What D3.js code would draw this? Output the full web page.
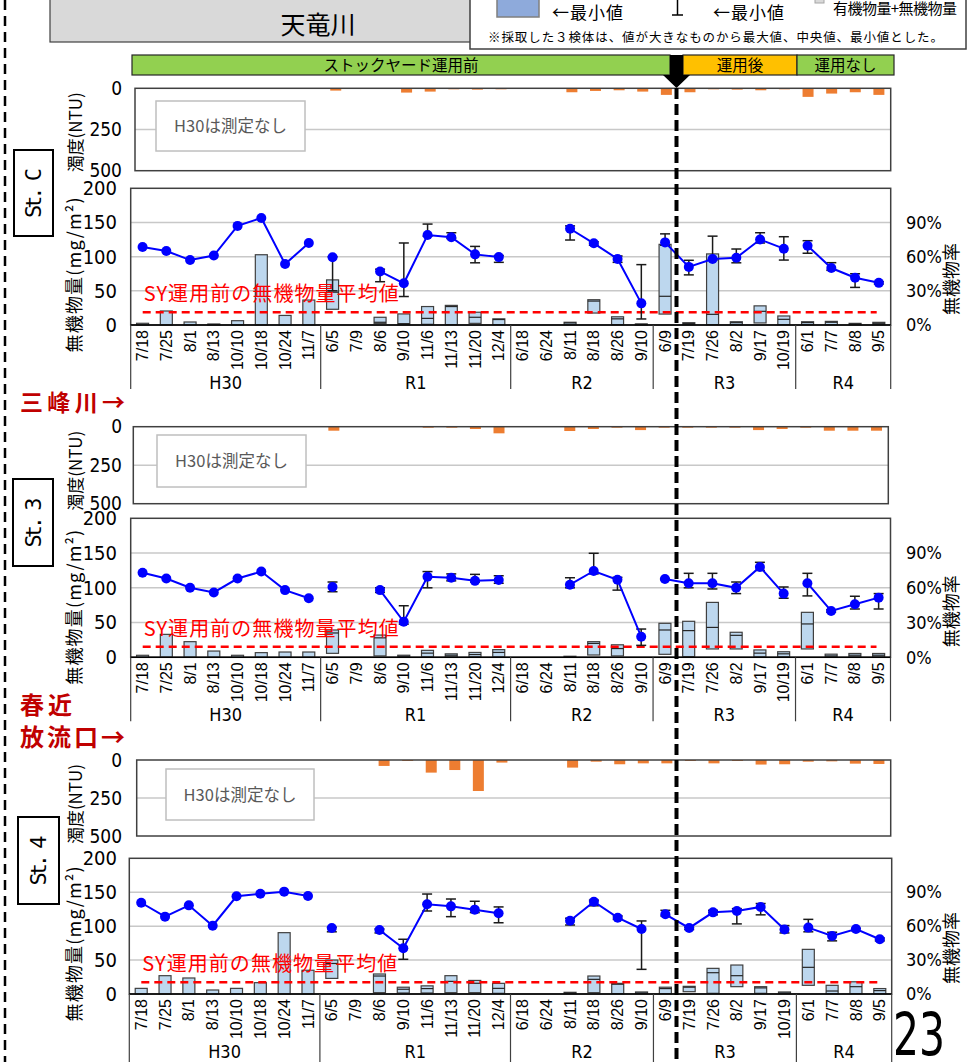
<!DOCTYPE html>
<html>
<head>
<meta charset="utf-8">
<script src="https://cdn.jsdelivr.net/npm/d3@7"></script>
<style>
body{margin:0;background:#fff;}
svg{display:block;}
</style>
</head>
<body>
<svg id="chart" width="968" height="1062"></svg>
<script>
// sampling dates, grouped by fiscal year
var dates=['7/18','7/25','8/1','8/13','10/10','10/18','10/24','11/7',
  '6/5','7/9','8/6','9/10','11/6','11/13','11/20','12/4',
  '6/18','6/24','8/11','8/18','8/26','9/10',
  '6/9','7/19','7/26','8/2','9/17','10/19',
  '6/1','7/7','8/8','9/5'];
var yearLabels=['H30','R1','R2','R3','R4'];
var yearCounts=[8,8,6,6,4];

// St.C
var turbC=[null,null,null,null,null,null,null,null, 14,null,null,26,20,6,8,4, null,null,24,16,12,20, 40,24,4,8,12,6, 52,32,24,40];
var boxMaxC=[2.5,20.5,4.4,1.5,6.3,102.8,14,36.5, 66,null,11.3,16.2,27,28.7,18.7,9, null,null,4,37,12,1.5, 118,3.4,104,4.8,28,13.2, 4.8,5.3,2.4,3.9];
var boxMedC=[null,null,null,null,null,null,null,null, 48,null,4,2,9.7,27,11.3,8, null,null,3,35,9,1, 42,2,15.6,3.4,20,8.3, 3.5,4,1.5,2.5];
var boxMinC=[0,0,0,0,0,0,0,0, 23,null,2.4,0.5,1,0.5,2.4,0.5, null,null,0.5,17.5,0.5,0.5, 16,0.5,0.5,0.5,3,0.5, 0.5,0.5,0.5,0.5];
var rateC=[68.4,65,57,61,87,94,53.5,72, 59.4,null,47,36.6,79,77,62,59.6, null,null,84.5,71.7,58,19, 72.5,51,58,59,75,67, 69.6,50,41.5,37];
var rateMinC=[null,null,null,null,null,null,null,null, 30,null,38,25,78,76,54.6,55, null,null,74.6,70,55,5.3, 70,44,57,54.6,72,57, 63,48,33,36];
var rateMaxC=[null,null,null,null,null,null,null,null, 60,null,49,72,88.6,81,69,61, null,null,87,73,60.6,53, 80,56.8,78,66.7,81,77.5, 74,54.7,45,38];
var avgC=18.5;

// St.3
var turb3=[null,null,null,null,null,null,null,null, 26,null,null,null,2,2,15,43, null,null,28,15,6,22, 3,3,3,3,22,15, 5,26,26,26];
var boxMax3=[2.9,33,22.5,9,2.9,6.7,7.6,7.6, 39.3,null,32,3,10,5,7,11, null,null,1.5,22.5,18,null, 48.9,51.8,79,36,10.6,8, 64.7,4.5,5.5,5.5];
var boxMed3=[null,null,null,null,null,null,null,null, 35,null,28,1.5,6,3,4,7, null,null,1,20,12.6,null, 39.3,38.4,43,31.6,6,5, 48,2,3,3];
var boxMin3=[0,0,0,0,0,0,0,0, 5.7,null,2,0.5,0.5,0.5,0.5,0.5, null,null,0.5,3.3,2,null, 4.3,1,12,12,0.5,0.5, 12,0.5,0.5,0.5];
var rate3=[73,68,60,56,68,74,58,51, 60.7,null,58,30.7,69.6,68.7,66,66.7, null,null,62.7,74.5,67,17.8, 67.6,64,64,60,78,55, 64,40,45.8,51.5];
var rateMin3=[null,null,null,null,null,null,null,null, 56.6,null,56,28.6,60,66,65,63.9, null,null,60,72,58,10.3, 67,60,59,55,75,51, 53,39,41.7,41.7];
var rateMax3=[null,null,null,null,null,null,null,null, 65,null,60,44.5,74,72,71.6,70.4, null,null,68.7,89.8,69,24.4, 68,72.5,72.5,65,82,60.7, 72.5,41,52.7,55];
var avg3=15.3;

// St.4
var turb4=[null,null,null,null,null,null,null,null, null,null,39,3,83,66,204,17, null,null,50,11,28,22, 22,2,22,2,30,28, 11,9,24,26];
var boxMax4=[8.3,27,23.6,5.9,8.3,16.7,90.4,35, 50,null,29.5,10,12,27,20,15.7, null,null,2.5,26.5,15.7,3, 10,11.3,37.8,42.7,10.8,3, 65.8,12.8,18,8];
var boxMed4=[null,null,null,null,null,null,null,null, 45,null,26.5,7,8,18.6,15.8,8.3, null,null,1.5,21.6,14.4,1.5, 8,10,31.4,27,9,1.5, 39.3,4.4,10.8,5];
var boxMin4=[0,0,0,0,0,0,0,0, 23,null,2,1.5,1.5,2,2,1, null,null,0.5,2,0.5,0.5, 0.5,3.4,1,10.8,1,0.5, 12.8,0.5,0.5,0.5];
var rate4=[80.7,68.4,78.4,60.4,86.4,88.7,90.5,86.7, 58.4,null,56.6,40.4,79.3,77.5,74.6,71.4, null,null,64.8,81.6,67.5,57.5, 70.5,58.4,72.2,73.4,77,57, 58.7,51.3,57.5,48.4];
var rateMin4=[null,null,null,null,null,null,null,null, 55,null,54,30.7,73.4,68.4,72,63, null,null,61,78,66,21.8, 69,57,70,62,70,54, 55,47,56,47];
var rateMax4=[null,null,null,null,null,null,null,null, 59,null,57.5,48.4,88.4,84,82,77, null,null,67,83,69,64.6, 74,59,74,75.5,80,60.5, 66,54.6,58,49.5];
var avg4=17.2;

var NUM="'Liberation Sans Narrow','Arial Narrow','DejaVu Sans Condensed',sans-serif";
var JP="'Noto Sans CJK JP','Noto Sans CJK SC',sans-serif";
var svg=d3.select('#chart');

// panel geometry per station
var stations=[
  {name:'St. C',turb:turbC,bmax:boxMaxC,bmed:boxMedC,bmin:boxMinC,rate:rateC,rmin:rateMinC,rmax:rateMaxC,avg:avgC,
   tL:135,tR:890.7,tT:88.3,tB:170.7,mL:130.7,mR:890.7,mT:188.3,mB:325,
   label:[14,150,39,86],note:[156,101,149,50],sepEnd:64},
  {name:'St. 3',turb:turb3,bmax:boxMax3,bmed:boxMed3,bmin:boxMin3,rate:rate3,rmin:rateMin3,rmax:rateMax3,avg:avg3,
   tL:133.3,tR:888.3,tT:426.7,tB:503.7,mL:130.7,mR:890.5,mT:518.3,mB:657.3,
   label:[13,479,40,87],note:[157,435,149,52],sepEnd:64},
  {name:'St. 4',turb:turb4,bmax:boxMax4,bmed:boxMed4,bmin:boxMin4,rate:rate4,rmin:rateMin4,rmax:rateMax4,avg:avg4,
   tL:136.7,tR:890.7,tT:760,tB:836,mL:129.3,mR:891.7,mT:858.3,mB:994,
   label:[18,817,41,87],note:[166,769,148,51],sepEnd:80}
];

drawHeader();
stations.forEach(drawStation);
drawSideNotes();

function drawHeader() {
  //title box
  svg.append('rect').attr('x',50).attr('y',-2).attr('width',440).attr('height',44)
    .attr('fill','#d9d9d9').attr('stroke','#404040').attr('stroke-width',1.2);
  svg.append('text').attr('x',318).attr('y',34).attr('text-anchor','middle')
    .style('font-family',JP).style('font-size','25px').text('天竜川');

  //legend (top cut off)
  svg.append('rect').attr('x',470).attr('y',-3).attr('width',496).attr('height',52)
    .attr('fill','#fff').attr('stroke','#404040').attr('stroke-width',1.5);
  svg.append('rect').attr('x',497).attr('y',-25).attr('width',42).attr('height',42)
    .attr('fill','#8eaadb').attr('stroke','#7f7f7f').attr('stroke-width',1.5);
  svg.append('text').attr('x',552).attr('y',19).style('font-family',JP).style('font-size','17px')
    .attr('textLength',71).text('←最小値');
  svg.append('line').attr('x1',677.5).attr('x2',677.5).attr('y1',-5).attr('y2',15).attr('stroke','#000').attr('stroke-width',1.5);
  svg.append('line').attr('x1',672).attr('x2',683).attr('y1',15).attr('y2',15).attr('stroke','#000').attr('stroke-width',1.5);
  svg.append('text').attr('x',713).attr('y',19).style('font-family',JP).style('font-size','17px')
    .attr('textLength',71).text('←最小値');
  svg.append('rect').attr('x',815).attr('y',-6).attr('width',9).attr('height',9)
    .attr('fill','#d9d9d9').attr('stroke','#a6a6a6');
  svg.append('text').attr('x',833).attr('y',14).style('font-family',JP).style('font-size','15px')
    .attr('textLength',124).text('有機物量+無機物量');
  svg.append('text').attr('x',488).attr('y',42).style('font-family',JP).style('font-size','12.5px')
    .attr('textLength',455).text('※採取した３検体は、値が大きなものから最大値、中央値、最小値とした。');

  //phase bar
  var phases=[{x0:132,x1:670,fill:'#92d050',text:'ストックヤード運用前'},
    {x0:683,x1:797,fill:'#ffc000',text:'運用後'},
    {x0:797,x1:894,fill:'#92d050',text:'運用なし'}];
  phases.forEach(function(p) {
    svg.append('rect').attr('x',p.x0).attr('y',55).attr('width',p.x1-p.x0).attr('height',20)
      .attr('fill',p.fill).attr('stroke','#262626').attr('stroke-width',1.2);
    svg.append('text').attr('x',(p.x0+p.x1)/2).attr('y',70.5).attr('text-anchor','middle')
      .style('font-family',JP).style('font-size','15.5px').text(p.text);
  });
  svg.append('path').attr('d','M670,55 L683,55 L683,75 L690,75 L676.5,88 L663,75 L670,75 Z').attr('fill','#000');

  //left dashed border of the slide
  svg.append('line').attr('x1',5).attr('x2',5).attr('y1',0).attr('y2',1062)
    .attr('stroke','#000').attr('stroke-width',2.5).attr('stroke-dasharray','10,6');
}

function drawStation(st) {
  var N=dates.length;
  var g=svg.append('g');
  var xT=d3.scaleBand().domain(d3.range(N)).range([st.tL,st.tR]);
  var xM=d3.scaleBand().domain(d3.range(N)).range([st.mL,st.mR]);
  var yT=d3.scaleLinear().domain([0,500]).range([st.tT,st.tB]);
  var yM=d3.scaleLinear().domain([0,200]).range([st.mB,st.mT]);
  var yP=d3.scaleLinear().domain([0,120]).range([st.mB,st.mT]);

  // ---- turbidity panel ----
  g.append('line').attr('x1',st.tL).attr('x2',st.tR).attr('y1',yT(250)).attr('y2',yT(250))
    .attr('stroke','#c8c8c8').attr('stroke-width',1.5);
  var tdata=[];
  st.turb.forEach(function(v,i) { if (v!==null) tdata.push({i:i,v:v}); });
  g.selectAll(null).data(tdata).enter().append('rect')
    .attr('x',function(d) {return xT(d.i)+xT.bandwidth()/2-5.5;})
    .attr('y',yT(0))
    .attr('width',11)
    .attr('height',function(d) {return Math.max(1,yT(d.v)-yT(0));})
    .attr('fill','#ed7d31');
  //note box
  g.append('rect').attr('x',st.note[0]).attr('y',st.note[1]).attr('width',st.note[2]).attr('height',st.note[3])
    .attr('fill','#fff').attr('stroke','#bfbfbf').attr('stroke-width',1.5);
  g.append('text').attr('x',st.note[0]+st.note[2]/2).attr('y',st.note[1]+st.note[3]/2+6)
    .attr('text-anchor','middle').attr('fill','#595959')
    .style('font-family',JP).style('font-size','16.5px').text('H30は測定なし');
  g.append('rect').attr('x',st.tL).attr('y',st.tT).attr('width',st.tR-st.tL).attr('height',st.tB-st.tT)
    .attr('fill','none').attr('stroke','#404040').attr('stroke-width',1.5);
  var tAxis=g.append('g').attr('transform','translate('+st.tL+',0)')
    .call(d3.axisLeft(yT).tickValues([0,250,500]).tickSize(0).tickPadding(st.tL-122));
  tAxis.select('.domain').remove();
  tAxis.selectAll('text').style('font-family',NUM).style('font-size','19px').attr('fill','#000');
  g.append('text').attr('transform','translate(82,'+(st.tT+44)+') rotate(-90)')
    .attr('text-anchor','middle').style('font-family',JP).style('font-size','17px')
    .attr('textLength',80).text('濁度(NTU)');

  // ---- main panel ----
  [50,100,150].forEach(function(v) {
    g.append('line').attr('x1',st.mL).attr('x2',st.mR).attr('y1',yM(v)).attr('y2',yM(v))
      .attr('stroke','#c8c8c8').attr('stroke-width',1.5);
  });

  //inorganic amount boxes (min - median - max)
  var bdata=[];
  st.bmax.forEach(function(v,i) { if (v!==null) bdata.push({i:i,max:v,med:st.bmed[i],min:st.bmin[i]}); });
  var bw=12;
  g.selectAll(null).data(bdata).enter().append('rect')
    .attr('x',function(d) {return xM(d.i)+xM.bandwidth()/2-bw/2;})
    .attr('y',function(d) {return yM(d.max);})
    .attr('width',bw)
    .attr('height',function(d) {return Math.max(1,yM(d.min)-yM(d.max));})
    .attr('fill','#bdd7ee').attr('stroke','#404040').attr('stroke-width',1.2);
  g.selectAll(null).data(bdata.filter(function(d) {return d.med!==null;})).enter().append('line')
    .attr('x1',function(d) {return xM(d.i)+xM.bandwidth()/2-bw/2;})
    .attr('x2',function(d) {return xM(d.i)+xM.bandwidth()/2+bw/2;})
    .attr('y1',function(d) {return yM(d.med);})
    .attr('y2',function(d) {return yM(d.med);})
    .attr('stroke','#262626').attr('stroke-width',1.2);

  //SY average line
  g.append('line').attr('x1',st.mL+12).attr('x2',st.mR-14).attr('y1',yM(st.avg)).attr('y2',yM(st.avg))
    .attr('stroke','#ff0000').attr('stroke-width',2.5).attr('stroke-dasharray','8,5');
  g.append('text').attr('x',st.mL+13).attr('y',yM(st.avg)-11).attr('fill','#ff0000')
    .style('font-family',JP).style('font-size','20px').attr('textLength',255)
    .text('SY運用前の無機物量平均値');

  //error bars of the inorganic rate
  var edata=[];
  st.rmin.forEach(function(v,i) { if (v!==null) edata.push({i:i,lo:v,hi:st.rmax[i]}); });
  var eg=g.selectAll(null).data(edata).enter().append('g').attr('stroke','#1a1a1a').attr('stroke-width',1.5);
  eg.append('line')
    .attr('x1',function(d) {return xM(d.i)+xM.bandwidth()/2;})
    .attr('x2',function(d) {return xM(d.i)+xM.bandwidth()/2;})
    .attr('y1',function(d) {return yP(d.lo);}).attr('y2',function(d) {return yP(d.hi);});
  ['lo','hi'].forEach(function(k) {
    eg.append('line')
      .attr('x1',function(d) {return xM(d.i)+xM.bandwidth()/2-5;})
      .attr('x2',function(d) {return xM(d.i)+xM.bandwidth()/2+5;})
      .attr('y1',function(d) {return yP(d[k]);}).attr('y2',function(d) {return yP(d[k]);});
  });

  //rate line, one series per year
  var line=d3.line()
    .defined(function(d) {return d.v!==null;})
    .x(function(d) {return xM(d.i)+xM.bandwidth()/2;})
    .y(function(d) {return yP(d.v);});
  var start=0;
  yearCounts.forEach(function(c) {
    var seg=[];
    for (var i=start; i<start+c; i++) seg.push({i:i,v:st.rate[i]});
    g.append('path').attr('d',line(seg)).attr('fill','none').attr('stroke','#0000ff').attr('stroke-width',2);
    start+=c;
  });
  var pdata=[];
  st.rate.forEach(function(v,i) { if (v!==null) pdata.push({i:i,v:v}); });
  g.selectAll(null).data(pdata).enter().append('circle')
    .attr('cx',function(d) {return xM(d.i)+xM.bandwidth()/2;})
    .attr('cy',function(d) {return yP(d.v);})
    .attr('r',5).attr('fill','#0000ff');

  //frame
  g.append('rect').attr('x',st.mL).attr('y',st.mT).attr('width',st.mR-st.mL).attr('height',st.mB-st.mT)
    .attr('fill','none').attr('stroke','#404040').attr('stroke-width',1.5);
  g.append('line').attr('x1',st.mL).attr('x2',st.mR).attr('y1',st.mB).attr('y2',st.mB)
    .attr('stroke','#000').attr('stroke-width',1.5);

  //axes
  var la=g.append('g').attr('transform','translate('+st.mL+',0)')
    .call(d3.axisLeft(yM).tickValues([0,50,100,150,200]).tickSize(0).tickPadding(st.mL-117));
  la.select('.domain').remove();
  la.selectAll('text').style('font-family',NUM).style('font-size','20px').attr('fill','#000');
  var ra=g.append('g').attr('transform','translate('+st.mR+',0)')
    .call(d3.axisRight(yP).tickValues([0,30,60,90]).tickFormat(function(d) {return d+'%';}).tickSize(0).tickPadding(906-st.mR));
  ra.select('.domain').remove();
  ra.selectAll('text').style('font-family',NUM).style('font-size','18px').attr('fill','#000');

  g.append('text').attr('transform','translate(81,'+(st.mB-50)+') rotate(-90)')
    .attr('text-anchor','middle').style('font-family',JP).style('font-size','18px')
    .attr('textLength',155).text('無機物量(mg/m²)');
  g.append('text').attr('transform','translate(958,'+(st.mB-46)+') rotate(-90)')
    .attr('text-anchor','middle').style('font-family',JP).style('font-size','18px').text('無機物率');

  //date labels
  g.selectAll(null).data(d3.range(N)).enter().append('text')
    .attr('transform',function(i) {return 'translate('+(xM(i)+xM.bandwidth()/2)+','+(st.mB+5)+') rotate(-90)';})
    .attr('dy','0.35em').attr('text-anchor','end')
    .style('font-family',"'Liberation Sans',sans-serif").style('font-size','16px')
    .text(function(i) {return dates[i];});

  //year groups
  var b=0;
  var bounds=[0];
  yearCounts.forEach(function(c) { b+=c; bounds.push(b); });
  bounds.forEach(function(k) {
    var xx=k<N ? xM(k) : st.mR;
    g.append('line').attr('x1',xx).attr('x2',xx).attr('y1',st.mB).attr('y2',st.mB+st.sepEnd)
      .attr('stroke','#404040').attr('stroke-width',1.2);
  });
  yearLabels.forEach(function(lab,j) {
    var x0=xM(bounds[j]);
    var x1=bounds[j+1]<N ? xM(bounds[j+1]) : st.mR;
    g.append('text').attr('x',(x0+x1)/2).attr('y',st.mB+64).attr('text-anchor','middle')
      .style('font-family',NUM).style('font-size','18px').text(lab);
  });

  //station label
  var L=st.label;
  g.append('rect').attr('x',L[0]).attr('y',L[1]).attr('width',L[2]).attr('height',L[3])
    .attr('fill','#fff').attr('stroke','#000').attr('stroke-width',2);
  g.append('text').attr('transform','translate('+(L[0]+L[2]/2)+','+(L[1]+L[3]/2)+') rotate(-90)')
    .attr('dy','0.35em').attr('text-anchor','middle')
    .style('font-family',"'DejaVu Sans Mono',monospace").style('font-size','22px')
    .attr('textLength',50).text(st.name);
}

function drawSideNotes() {
  svg.append('text').attr('x',20).attr('y',411).attr('fill','#c00000').style('font-weight','bold')
    .style('font-family',JP).style('font-size','23px').attr('textLength',105).text('三峰川→');
  svg.append('text').attr('x',20).attr('y',714).attr('fill','#c00000').style('font-weight','bold')
    .style('font-family',JP).style('font-size','24px').attr('textLength',52).text('春近');
  svg.append('text').attr('x',20).attr('y',746).attr('fill','#c00000').style('font-weight','bold')
    .style('font-family',JP).style('font-size','24px').attr('textLength',105).text('放流口→');

  //start of stockyard operation
  svg.append('line').attr('x1',676.5).attr('x2',676.5).attr('y1',88).attr('y2',1062)
    .attr('stroke','#000').attr('stroke-width',4).attr('stroke-dasharray','11,5');

  svg.append('text').attr('x',893).attr('y',1055)
    .style('font-family',NUM).style('font-size','58px').attr('textLength',52).attr('lengthAdjust','spacingAndGlyphs').text('23');
}
</script>
</body>
</html>
